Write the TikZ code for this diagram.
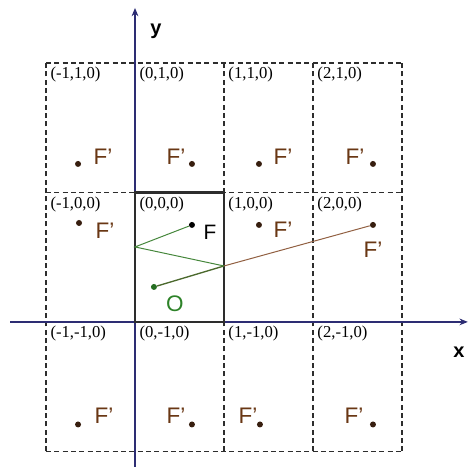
\documentclass[tikz,border=0pt]{standalone}
\usepackage{fontspec}
\setmainfont{Liberation Serif}
\newfontfamily\labfont{Liberation Sans}
\usepackage{tikz}
\usetikzlibrary{arrows.meta}
\definecolor{axisblue}{RGB}{45,45,115}
\definecolor{gridgray}{RGB}{45,45,45}
\definecolor{fbrown}{RGB}{105,55,20}
\definecolor{dotbrown}{RGB}{55,30,15}
\definecolor{ogreen}{RGB}{45,130,40}
\definecolor{rayolive}{RGB}{75,105,45}
\definecolor{raygreen}{RGB}{70,135,60}
\definecolor{raybrown}{RGB}{145,95,65}

\begin{document}
\begin{tikzpicture}[
  x=53.4pt, y=77.7pt,
  >={Stealth[length=5pt,width=4pt]},
  cellline/.style={draw=gridgray, line width=0.75pt, dash pattern=on 3pt off 2pt},
  cellnum/.style={anchor=north west, inner sep=2.5pt, font=\fontsize{10}{10}\selectfont},
  fdot/.style={circle, fill=dotbrown, inner sep=0pt, minimum size=3.6pt},
  fimg/.style={font=\labfont\fontsize{13.5}{13.5}\selectfont, text=fbrown, inner sep=0pt},
  axlabel/.style={font=\labfont\bfseries\fontsize{12}{12}\selectfont, inner sep=0pt},
]
  \useasboundingbox (-1.517,-1.120) rectangle (3.753,2.486);
  % dashed cells
  \foreach \i in {-1,...,3} \draw[cellline] (\i,-1) -- (\i,2);
  \foreach \j in {-1,...,2} \draw[cellline] (-1,\j) -- (3,\j);
  \foreach \i in {-1,...,2}
    \foreach \j in {-1,0,1}
      \node[cellnum] (c\i\j) at (\i,\j+1) {(\i,\j,0)};
  % axes
  \coordinate (xs) at (-1.404,0);
  \coordinate (xe) at (3.74,0);
  \coordinate (ys) at (0,-1.12);
  \coordinate (ye) at (0,2.425);
  \draw[->, axisblue, line width=1pt] (xs) -- (xe);
  \draw[->, axisblue, line width=1pt] (ys) -- (ye);
  \node[axlabel] (ylab) at (0.236,2.247) {y};
  \node[axlabel] (xlab) at (3.640,-0.232) {x};
  % unit cell
  \draw[line width=1.3pt, draw=gridgray] (0,0) rectangle (1,1);
  % image points, top row
  \node[fdot] (f1) at (-0.640,1.220) {};
  \node[fdot] (f2) at (0.640,1.220) {};
  \node[fdot] (f3) at (1.393,1.220) {};
  \node[fdot] (f4) at (2.674,1.220) {};
  \node[fimg] (t1) at (-0.360,1.274) {F’};
  \node[fimg] (t2) at (0.461,1.274) {F’};
  \node[fimg] (t3) at (1.663,1.274) {F’};
  \node[fimg] (t4) at (2.472,1.274) {F’};
  % middle row
  \node[fdot] (f5) at (-0.629,0.764) {};
  \node[fdot, fill=black] (f) at (0.640,0.749) {};
  \node[fdot] (f6) at (1.393,0.749) {};
  \node[fdot] (f7) at (2.674,0.749) {};
  \node[fimg] (t5) at (-0.337,0.703) {F’};
  \node[fimg, text=black, font=\labfont\fontsize{12.5}{12.5}\selectfont] (tf) at (0.843,0.695) {F};
  \node[fimg] (t6) at (1.663,0.710) {F’};
  \node[fimg] (t7) at (2.674,0.556) {F’};
  % bottom row
  \node[fdot] (f8) at (-0.640,-0.792) {};
  \node[fdot] (f9) at (0.640,-0.792) {};
  \node[fdot] (f10) at (1.404,-0.792) {};
  \node[fdot] (f11) at (2.674,-0.792) {};
  \node[fimg] (t8) at (-0.348,-0.726) {F’};
  \node[fimg] (t9) at (0.461,-0.726) {F’};
  \node[fimg] (t10) at (1.270,-0.726) {F’};
  \node[fimg] (t11) at (2.461,-0.726) {F’};
  % source and rays
  \node[fdot, fill=ogreen!85!black] (o) at (0.213,0.270) {};
  \node[fimg, text=ogreen] (to) at (0.449,0.139) {O};
  \coordinate (hitR) at (1,0.432);
  \coordinate (hitL) at (0,0.579);
  \draw[rayolive, line width=0.8pt] (o) -- (hitR);
  \draw[raybrown, line width=0.6pt] (hitR) -- (f7);
  \draw[raygreen, line width=0.6pt] (hitR) -- (hitL) -- (f);
\end{tikzpicture}
\end{document}
